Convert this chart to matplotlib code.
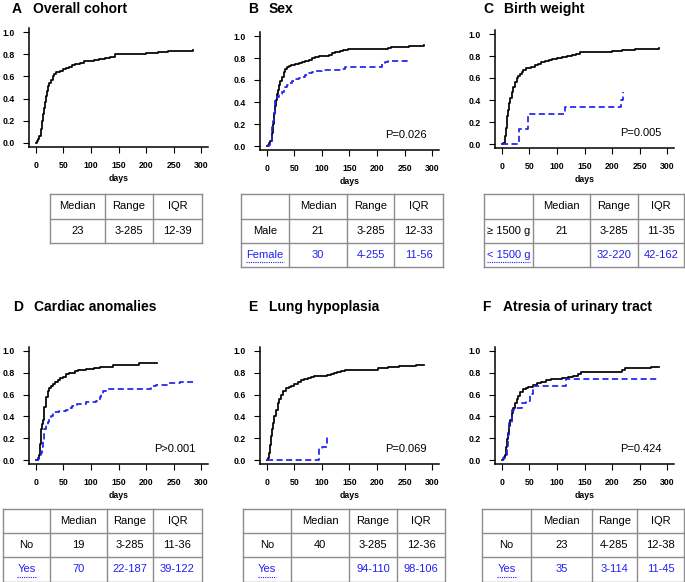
import numpy as np
import matplotlib
matplotlib.use('Agg')
import matplotlib.pyplot as plt

plt.rcParams['font.family'] = ['Liberation Sans', 'DejaVu Sans']

W, H = 685, 582
BLUE = '#2020f0'
GRID = '#8c8c8c'

# ---- cumulative incidence curves (days, probability) ----
overall_t = [0, 3, 5, 7, 9, 11, 13, 15, 17, 19, 21, 23, 25, 28, 31, 34, 37, 40, 45, 50,
             55, 60, 66, 72, 80, 88, 96, 105, 115, 125, 135, 143, 160, 180, 200, 215, 222, 240, 260, 285]
overall_y = [0, 0.01, 0.03, 0.06, 0.12, 0.20, 0.26, 0.31, 0.37, 0.42, 0.47, 0.51, 0.54, 0.57, 0.60, 0.62, 0.64, 0.645, 0.65, 0.665,
             0.68, 0.69, 0.70, 0.715, 0.725, 0.74, 0.745, 0.75, 0.755, 0.765, 0.775, 0.80, 0.80, 0.805, 0.81, 0.81, 0.825, 0.83, 0.835, 0.84]

male_t = [0, 3, 5, 7, 9, 11, 13, 15, 17, 19, 21, 23, 25, 28, 31, 34, 37, 40, 45, 52,
          58, 64, 70, 76, 82, 88, 94, 103, 112, 118, 124, 132, 139, 148, 190, 220, 226, 240, 257, 270, 285]
male_y = [0, 0.01, 0.03, 0.05, 0.12, 0.20, 0.30, 0.36, 0.42, 0.47, 0.51, 0.55, 0.59, 0.63, 0.67, 0.70, 0.72, 0.73, 0.735, 0.745,
          0.75, 0.76, 0.775, 0.785, 0.80, 0.805, 0.815, 0.82, 0.83, 0.845, 0.855, 0.865, 0.87, 0.885, 0.885, 0.89, 0.90, 0.90, 0.905, 0.91, 0.915]
female_t = [0, 4, 7, 9, 10, 12, 13, 15, 16, 19, 22, 25, 28, 31, 34, 37, 40, 46, 52, 58,
            64, 70, 76, 82, 88, 100, 120, 136, 142, 202, 208, 214, 220, 245, 254, 255]
female_y = [0, 0.01, 0.04, 0.10, 0.17, 0.23, 0.29, 0.36, 0.415, 0.445, 0.46, 0.47, 0.49, 0.51, 0.54, 0.555, 0.57, 0.59, 0.61, 0.62,
            0.63, 0.645, 0.66, 0.67, 0.68, 0.69, 0.695, 0.70, 0.72, 0.72, 0.75, 0.76, 0.77, 0.77, 0.785, 0.785]

bw_hi_t = [0, 3, 6, 8, 9, 11, 13, 15, 18, 21, 24, 27, 30, 33, 36, 39, 45, 54, 60, 66,
           72, 78, 85, 91, 100, 109, 118, 127, 135, 142, 187, 200, 217, 230, 241, 260, 285]
bw_hi_y = [0, 0.01, 0.07, 0.15, 0.25, 0.31, 0.37, 0.42, 0.47, 0.52, 0.56, 0.60, 0.62, 0.64, 0.655, 0.67, 0.69, 0.70, 0.715, 0.73,
           0.745, 0.755, 0.765, 0.775, 0.785, 0.79, 0.80, 0.81, 0.82, 0.835, 0.84, 0.845, 0.85, 0.855, 0.86, 0.865, 0.87]
bw_lo_t = [0, 32, 47, 115, 216, 220]
bw_lo_y = [0, 0.136, 0.27, 0.335, 0.40, 0.47]

card_no_t = [0, 1, 4, 6, 8, 10, 12, 13, 15, 16, 18, 19, 22, 25, 28, 31, 35, 40, 45, 49,
             55, 60, 65, 72, 77, 85, 92, 105, 116, 130, 140, 176, 188, 205, 218, 220]
card_no_y = [0, 0.0, 0.02, 0.05, 0.15, 0.28, 0.33, 0.37, 0.44, 0.49, 0.54, 0.58, 0.63, 0.66, 0.68, 0.70, 0.72, 0.735, 0.75, 0.765,
             0.79, 0.795, 0.80, 0.815, 0.825, 0.83, 0.835, 0.84, 0.85, 0.855, 0.87, 0.875, 0.89, 0.89, 0.893, 0.893]
card_yes_t = [0, 5, 7, 10, 12, 13, 15, 16, 19, 22, 25, 28, 31, 34, 43, 55, 60, 65, 74, 92,
              110, 116, 119, 122, 128, 200, 209, 218, 242, 262, 285]
card_yes_y = [0, 0.01, 0.02, 0.06, 0.12, 0.19, 0.24, 0.28, 0.32, 0.35, 0.38, 0.40, 0.42, 0.44, 0.445, 0.46, 0.48, 0.50, 0.515, 0.53,
              0.54, 0.58, 0.61, 0.63, 0.65, 0.65, 0.675, 0.69, 0.705, 0.72, 0.72]

lung_no_t = [0, 3, 5, 7, 8, 10, 12, 14, 17, 20, 23, 26, 30, 35, 40, 44, 50, 56, 62, 68,
             74, 80, 86, 110, 116, 122, 128, 135, 141, 201, 210, 219, 240, 255, 270, 285]
lung_no_y = [0, 0.02, 0.06, 0.14, 0.22, 0.28, 0.34, 0.40, 0.46, 0.52, 0.56, 0.60, 0.63, 0.66, 0.67, 0.675, 0.70, 0.72, 0.735, 0.745,
             0.755, 0.765, 0.775, 0.78, 0.79, 0.795, 0.805, 0.815, 0.83, 0.84, 0.845, 0.857, 0.86, 0.866, 0.87, 0.872]
lung_yes_t = [0, 94, 100, 110]
lung_yes_y = [0, 0.11, 0.12, 0.23]

atr_no_t = [0, 2, 4, 6, 8, 10, 12, 14, 16, 18, 21, 24, 27, 30, 34, 39, 44, 48, 57, 64,
            72, 80, 90, 100, 109, 121, 130, 139, 144, 205, 217, 223, 240, 253, 270, 285]
atr_no_y = [0, 0.01, 0.03, 0.05, 0.12, 0.19, 0.25, 0.31, 0.37, 0.43, 0.48, 0.52, 0.56, 0.59, 0.62, 0.65, 0.66, 0.67, 0.69, 0.705,
            0.72, 0.73, 0.74, 0.745, 0.75, 0.765, 0.775, 0.787, 0.81, 0.81, 0.826, 0.84, 0.843, 0.848, 0.852, 0.857]
atr_yes_t = [0, 3, 6, 9, 11, 14, 18, 22, 33, 36, 45, 51, 56, 116, 284]
atr_yes_y = [0, 0.02, 0.05, 0.125, 0.23, 0.34, 0.46, 0.475, 0.475, 0.52, 0.54, 0.61, 0.675, 0.74, 0.74]

# ---- panel titles, p-values and tables ----
letters = ['A', 'B', 'C', 'D', 'E', 'F']
titles = ['Overall cohort', 'Sex', 'Birth weight', 'Cardiac anomalies', 'Lung hypoplasia', 'Atresia of urinary tract']
pvalues = [None, 'P=0.026', 'P=0.005', 'P>0.001', 'P=0.069', 'P=0.424']

header = ['', 'Median', 'Range', 'IQR']
tab_a = [['23', '3-285', '12-39']]
tab_b = [['Male', '21', '3-285', '12-33'], ['Female', '30', '4-255', '11-56']]
tab_c = [['\u2265 1500 g', '21', '3-285', '11-35'], ['< 1500 g', '', '32-220', '42-162']]
tab_d = [['No', '19', '3-285', '11-36'], ['Yes', '70', '22-187', '39-122']]
tab_e = [['No', '40', '3-285', '12-36'], ['Yes', '', '94-110', '98-106']]
tab_f = [['No', '23', '4-285', '12-38'], ['Yes', '35', '3-114', '11-45']]

fig = plt.figure(figsize=(W / 100, H / 100), dpi=100)
base = fig.add_axes([0, 0, 1, 1])
base.set_xlim(0, W)
base.set_ylim(H, 0)
base.axis('off')


def km_axes(box, curves, pval):
    l, t, r, b = box
    ax = fig.add_axes([l / W, 1 - b / H, (r - l) / W, (b - t) / H])
    for tt, yy, col, ls in curves:
        line, = ax.step(tt, yy, where='post', color=col, lw=1.25, linestyle=ls)
        if ls == '--':
            line.set_dashes((3.5, 2))
    ax.set_xlim(-12, 312)
    ax.set_ylim(-0.04, 1.04)
    ax.set_xticks(np.arange(0, 301, 50))
    ax.set_yticks(np.arange(0, 1.01, 0.2))
    ax.yaxis.set_major_formatter('{x:.1f}')
    ax.spines[['top', 'right']].set_visible(False)
    for s in ['left', 'bottom']:
        ax.spines[s].set_linewidth(1.1)
    ax.tick_params(labelsize=6.3, length=4, width=0.8)
    ax.tick_params(axis='x', pad=6)
    ax.tick_params(axis='y', pad=6)
    for lab in ax.get_xticklabels() + ax.get_yticklabels():
        lab.set_fontweight('bold')
    ax.set_xlabel('days', fontsize=6.3, fontweight='bold', labelpad=3)
    ax.patch.set_alpha(0)
    if pval:
        ax.text(290, 0.1, pval, ha='right', va='center', fontsize=8)
    return ax


def draw_table(xs, ys, rows, first_blank=True):
    for x in xs:
        base.plot([x, x], [ys[0], ys[-1]], color=GRID, lw=1)
    for y in ys:
        base.plot([xs[0], xs[-1]], [y, y], color=GRID, lw=1)
    hdr = header if first_blank else header[1:]
    cells = [hdr] + rows
    renderer = fig.canvas.get_renderer()
    for i, row in enumerate(cells):
        col = BLUE if i == 2 else 'black'
        cy = (ys[i] + ys[i + 1]) / 2
        for j, txt in enumerate(row):
            cx = (xs[j] + xs[j + 1]) / 2
            tx = base.text(cx, cy, txt, ha='center', va='center', fontsize=8, color=col)
            if i == 2 and j == 0 and first_blank:
                bb = tx.get_window_extent(renderer)
                x0 = bb.x0 / fig.dpi * 100
                x1 = bb.x1 / fig.dpi * 100
                base.plot([x0, x1], [cy + 7, cy + 7], color=BLUE, lw=0.8, linestyle=(0, (1, 1)))


boxes = [(29, 28, 208, 147), (260, 31.6, 439, 150.4), (495, 29.6, 674, 148.4),
         (29, 346.6, 208, 464.4), (260, 346.6, 439, 464.4), (495, 346.6, 674, 464.4)]
curve_sets = [
    [(overall_t, overall_y, 'black', '-')],
    [(male_t, male_y, 'black', '-'), (female_t, female_y, BLUE, '--')],
    [(bw_hi_t, bw_hi_y, 'black', '-'), (bw_lo_t, bw_lo_y, BLUE, '--')],
    [(card_no_t, card_no_y, 'black', '-'), (card_yes_t, card_yes_y, BLUE, '--')],
    [(lung_no_t, lung_no_y, 'black', '-'), (lung_yes_t, lung_yes_y, BLUE, '--')],
    [(atr_no_t, atr_no_y, 'black', '-'), (atr_yes_t, atr_yes_y, BLUE, '--')],
]
for box, cs, pv in zip(boxes, curve_sets, pvalues):
    km_axes(box, cs, pv)

letter_x = [12, 248, 483, 13, 248, 482]
title_base = [12.7, 12.7, 12.7, 310.7, 310.7, 310.7]
for lx, by, let, ttl in zip(letter_x, title_base, letters, titles):
    base.text(lx, by, let, fontsize=10, fontweight='bold', va='baseline')
    base.text(lx + 21, by, ttl, fontsize=10, fontweight='bold', va='baseline')

top_rows = [194, 218.5, 243, 267]
bot_rows = [509, 533, 557, 582]
draw_table([50, 105, 153, 202], top_rows[:3], tab_a, first_blank=False)
draw_table([241, 289, 347, 394, 443], top_rows, tab_b)
draw_table([484, 533, 590, 638, 684], top_rows, tab_c)
draw_table([3, 50, 107, 153, 202], bot_rows, tab_d)
draw_table([243, 291, 349, 397, 445], bot_rows, tab_e)
draw_table([482, 531, 592, 637, 684], bot_rows, tab_f)

fig.savefig('out.png', dpi=100)
